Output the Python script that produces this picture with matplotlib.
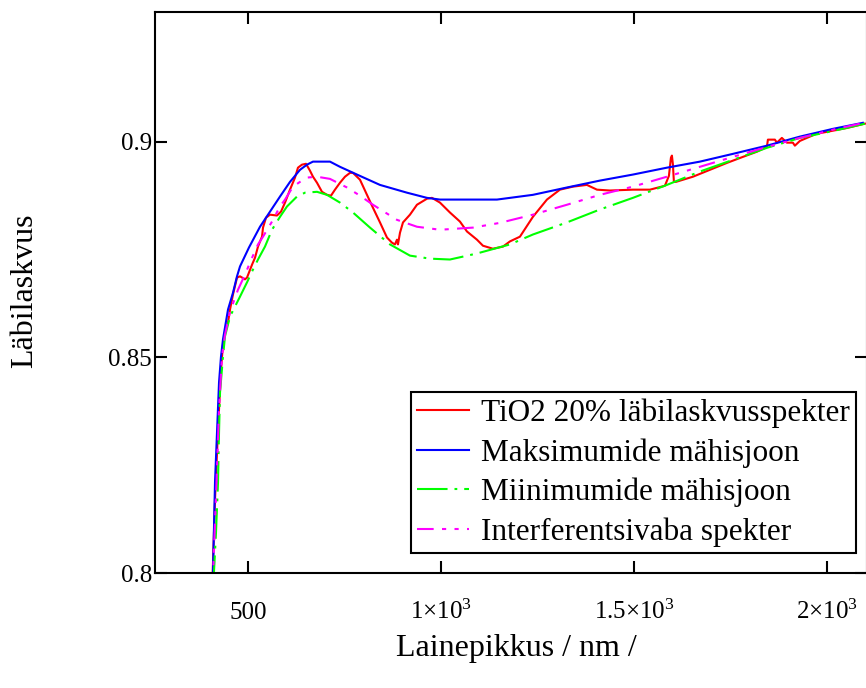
import matplotlib
matplotlib.use("Agg")
import matplotlib.pyplot as plt

plt.rcParams['font.family'] = ['Liberation Serif', 'DejaVu Serif']
plt.rcParams['mathtext.fontset'] = 'custom'
plt.rcParams['mathtext.rm'] = 'Liberation Serif'
plt.rcParams['lines.scale_dashes'] = False

# ---- data ----
wl_red = [407, 414.5, 422.3, 430.0, 435.2, 440.4, 448.2, 453.4, 461.1, 471.5, 479.3, 492.2,
          497.4, 510.4, 518.1, 525.9, 536.3, 538.9, 546.6, 557.0, 575.1, 585.5, 595.9,
          608.8, 621.8, 629.5, 639.9, 650.3, 660.6, 668.4, 678.8, 691.7, 704.7, 715.0,
          725.4, 738.3, 751.3, 764.3, 772.0, 790.2, 808.3, 823.8, 842.0, 860.1, 873.1,
          880.8, 886.0, 888.6, 893.8, 901.6, 919.7, 937.8, 963.7, 976.7, 997.4, 1023.3,
          1049.2, 1067.4, 1093.3, 1108.8, 1134.7, 1160.6, 1178.8, 1204.7, 1238.3, 1274.6,
          1308.3, 1342.0, 1378.2, 1404.2, 1437.8, 1497.4, 1541.5, 1580.3, 1590.7, 1595.9,
          1598.5, 1601.1, 1603.6, 1608.8, 1652.9, 1696.9, 1741.0, 1782.4, 1818.7, 1844.6,
          1847.2, 1865.3, 1870.5, 1883.4, 1896.4, 1911.9, 1917.1, 1930.1, 1974.1, 2000.0,
          2051.8, 2098.5]
t_red = [0.796, 0.8171, 0.8333, 0.8472, 0.8530, 0.8558, 0.8581, 0.8611, 0.8646, 0.8685, 0.8688, 0.8681,
         0.8685, 0.8715, 0.8731, 0.8757, 0.8780, 0.8801, 0.8824, 0.8831, 0.8829, 0.8838, 0.8859,
         0.8889, 0.8917, 0.8940, 0.8947, 0.8949, 0.8933, 0.8919, 0.8905, 0.8884, 0.8877, 0.8875,
         0.8889, 0.8905, 0.8919, 0.8928, 0.8928, 0.8912, 0.8877, 0.8847, 0.8813, 0.8778, 0.8766,
         0.8762, 0.8773, 0.8762, 0.8789, 0.8813, 0.8831, 0.8854, 0.8868, 0.8870, 0.8859, 0.8836,
         0.8815, 0.8792, 0.8773, 0.8759, 0.8752, 0.8757, 0.8769, 0.8780, 0.8826, 0.8866,
         0.8889, 0.8896, 0.8900, 0.8889, 0.8887, 0.8889, 0.8889, 0.8898, 0.8921, 0.8963,
         0.8968, 0.8947, 0.8907, 0.8907, 0.8919, 0.8935, 0.8951, 0.8965, 0.8977, 0.8988,
         0.9005, 0.9005, 0.8998, 0.9009, 0.8998, 0.8998, 0.8991, 0.9002, 0.9019, 0.9023,
         0.9032, 0.9042]

wl_max = [405, 409.3, 414.5, 424.9, 430.0, 435.2, 448.2, 461.1, 471.5, 479.3, 502.6, 531.1,
          557.0, 582.9, 608.8, 634.7, 652.8, 668.4, 712.4, 738.3, 782.4, 842.0, 911.9, 963.7,
          997.4, 1145.1, 1238.3, 1326.4, 1411.9, 1497.4, 1585.5, 1671.0, 1756.5, 1844.6,
          1930.1, 2015.6, 2093.3]
t_max = [0.796, 0.8002, 0.8211, 0.8442, 0.8502, 0.8542, 0.8611, 0.8650, 0.8688, 0.8711, 0.8755, 0.8803,
         0.8838, 0.8873, 0.8907, 0.8935, 0.8947, 0.8954, 0.8954, 0.8942, 0.8924, 0.8900, 0.8882, 0.8870,
         0.8866, 0.8866, 0.8877, 0.8894, 0.8910, 0.8924, 0.8940, 0.8954, 0.8972, 0.8991,
         0.9012, 0.9030, 0.9044]

wl_min = [410, 417.1, 422.3, 424.9, 427.5, 435.2, 440.4, 453.4, 479.3, 497.4, 513.0, 525.9,
          544.0, 562.2, 582.9, 601.0, 626.9, 647.7, 678.8, 704.7, 738.3, 772.0, 816.1, 867.9,
          919.7, 971.5, 1023.3, 1093.3, 1178.8, 1238.3, 1326.4, 1411.9, 1497.4, 1585.5,
          1671.0, 1756.5, 1844.6, 1930.1, 2015.6, 2098.5]
t_min = [0.797, 0.8095, 0.8211, 0.8326, 0.8419, 0.8502, 0.8549, 0.8595, 0.8641, 0.8674, 0.8704, 0.8727,
         0.8757, 0.8796, 0.8826, 0.8850, 0.8873, 0.8882, 0.8884, 0.8877, 0.8859, 0.8836, 0.8801, 0.8762,
         0.8736, 0.8729, 0.8727, 0.8741, 0.8762, 0.8785, 0.8813, 0.8843, 0.8870, 0.8900,
         0.8931, 0.8958, 0.8986, 0.9009, 0.9025, 0.9042]

wl_mid = [408, 418.4, 424.9, 432.6, 440.4, 453.4, 474.1, 492.2, 510.4, 525.9, 538.9, 562.2,
          582.9, 595.9, 616.6, 634.7, 652.8, 678.8, 712.4, 756.5, 790.2, 823.8, 886.0, 937.8,
          997.4, 1082.9, 1152.8, 1238.3, 1326.4, 1411.9, 1497.4, 1585.5, 1671.0, 1756.5,
          1844.6, 1930.1, 2015.6, 2095.9]
t_mid = [0.796, 0.8211, 0.8380, 0.8502, 0.8553, 0.8606, 0.8657, 0.8692, 0.8731, 0.8762, 0.8780, 0.8815,
         0.8850, 0.8866, 0.8896, 0.8907, 0.8917, 0.8919, 0.8914, 0.8894, 0.8875, 0.8854, 0.8819, 0.8803,
         0.8796, 0.8801, 0.8812, 0.8831, 0.8854, 0.8877, 0.8896, 0.8919, 0.8942, 0.8965,
         0.8988, 0.9009, 0.9028, 0.9044]

labels = ["TiO2 20% läbilaskvusspekter", "Maksimumide mähisjoon",
          "Miinimumide mähisjoon", "Interferentsivaba spekter"]
x_ticks = [500, 1000, 1500, 2000]
x_ticklabels = ["500", r"$\mathregular{1×10^{3}}$", r"$\mathregular{1.5×10^{3}}$",
                r"$\mathregular{2×10^{3}}$"]
y_ticks = [0.8, 0.85, 0.9]
y_ticklabels = ["0.8", "0.85", "0.9"]

# ---- figure ----
fig = plt.figure(figsize=(8.66, 6.88), dpi=100)
ax = fig.add_axes([155/866, 115/688, 712/866, 561/688])

ax.plot(wl_red, t_red, color='#ff0000', lw=1.5, label=labels[0])
ax.plot(wl_max, t_max, color='#0000ff', lw=1.5, label=labels[1])
ax.plot(wl_min, t_min, color='#00ff00', lw=1.5, dashes=[22, 5, 2, 5], label=labels[2])
ax.plot(wl_mid, t_mid, color='#ff00ff', lw=1.5, dashes=[12, 6, 3, 6, 3, 6], label=labels[3])

ax.set_xlim(259, 2104)
ax.set_ylim(0.8, 0.9301)
ax.set_xticks(x_ticks)
ax.set_xticklabels(x_ticklabels)
ax.set_yticks(y_ticks)
ax.set_yticklabels(y_ticklabels)

for s in ax.spines.values():
    s.set_linewidth(1.5)
ax.tick_params(direction='in', length=8.5, width=1.5, top=True, right=True,
               labelsize=18, color='black')
ax.tick_params(axis='x', pad=33)
ax.tick_params(axis='y', pad=2)
for lab in ax.get_xticklabels():
    lab.set_verticalalignment('baseline')

ax.set_xlabel("Lainepikkus / nm /", fontsize=23)
ax.xaxis.set_label_coords(0.508, -0.135)
ax.xaxis.label.set_verticalalignment('center')
ax.set_ylabel("Läbilaskvus", fontsize=23)
ax.yaxis.set_label_coords(-0.183, 0.503)
ax.yaxis.label.set_verticalalignment('center')

leg = ax.legend(loc='upper left', bbox_to_anchor=(411/866, 1 - 392/688),
                bbox_transform=fig.transFigure, fontsize=22.5, frameon=True,
                fancybox=False, edgecolor='black', framealpha=1,
                handlelength=1.65, handletextpad=0.4, labelspacing=0.33,
                borderpad=0.2, borderaxespad=0)
leg.get_frame().set_linewidth(1.5)

fig.savefig("out.png", dpi=100)
